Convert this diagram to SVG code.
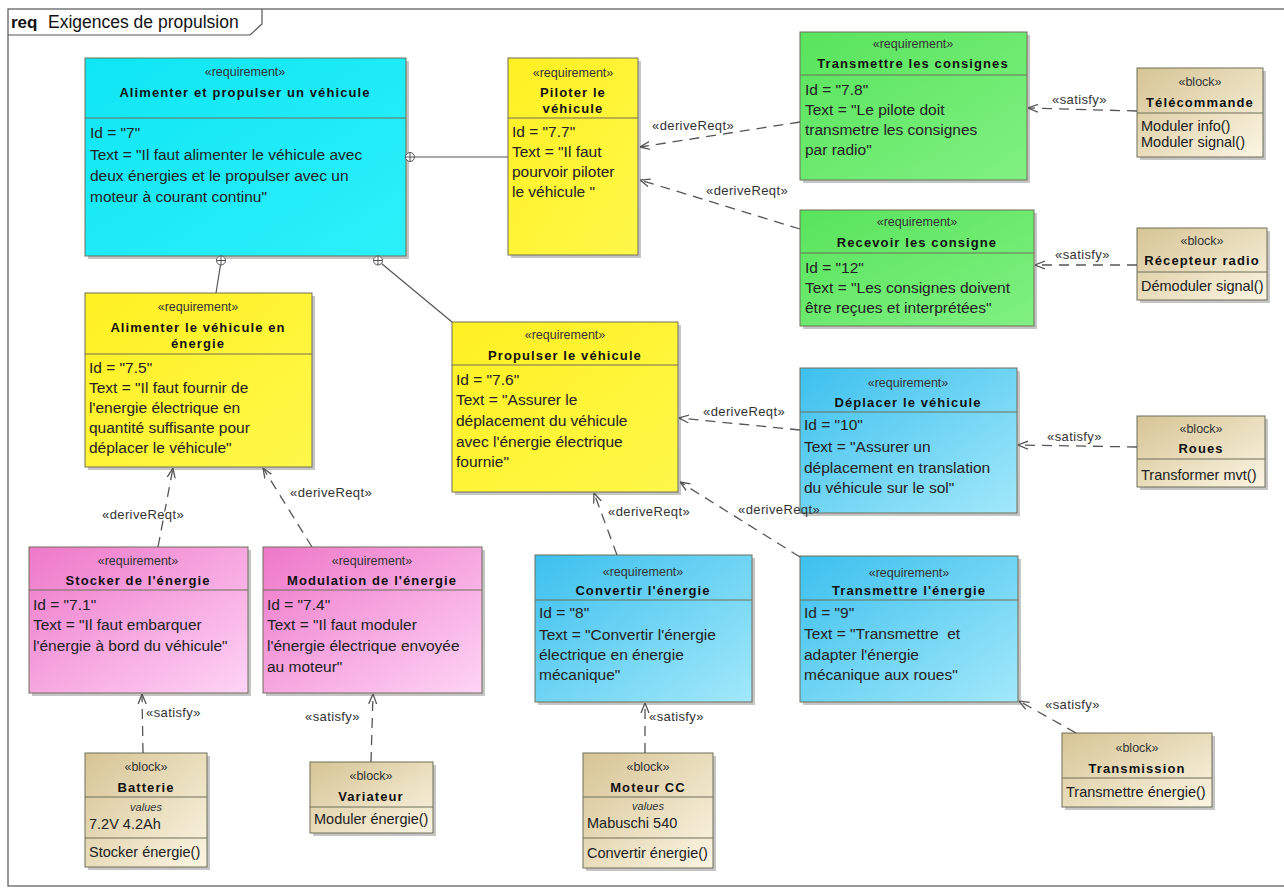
<svg xmlns="http://www.w3.org/2000/svg" width="1284" height="889" viewBox="0 0 1284 889">
<style>
.bg{fill:#fff}
.frame{fill:none;stroke:#555;stroke-width:1.2}
.sh{fill:#8c8c8c;opacity:.5}
.box{stroke:#6e6e58;stroke-width:1}
.sep{stroke:#6e6e58;stroke-width:1}
text{font-family:"Liberation Sans",Arial,sans-serif}
.st{font-size:12.5px;fill:#333;text-anchor:middle}
.nm{font-size:13px;font-weight:bold;letter-spacing:1.1px;fill:#111;text-anchor:middle}
.tx{font-size:15.5px;fill:#222}
.op{font-size:14.5px;fill:#222}
.val{font-size:11px;font-style:italic;fill:#333;text-anchor:middle}
.lbl{font-size:13px;letter-spacing:.4px;fill:#333;paint-order:stroke;stroke:#fff;stroke-width:3px;stroke-linejoin:round}
.lbl2{font-size:13px;letter-spacing:.4px;fill:#333}
.dash{stroke:#555;stroke-width:1.3;stroke-dasharray:10 7;fill:none;marker-end:url(#open)}
.solid{stroke:#555;stroke-width:1.2;fill:none}
.cont{fill:#fff;stroke:#555;stroke-width:1}
</style>
<defs>
<marker id="open" viewBox="0 0 10 10" refX="10" refY="5" markerWidth="10" markerHeight="10" markerUnits="userSpaceOnUse" orient="auto">
<path d="M0,1 L10,5 L0,9" fill="none" stroke="#555" stroke-width="1.3"/>
</marker>
<linearGradient id="gCyan" x1="0" y1="0" x2="1" y2="1"><stop offset="0" stop-color="#0FE6F4"/><stop offset="1" stop-color="#2CF0FA"/></linearGradient>
<linearGradient id="gYel" x1="0" y1="0" x2="1" y2="1"><stop offset="0" stop-color="#FFF022"/><stop offset="1" stop-color="#FFF84A"/></linearGradient>
<linearGradient id="gGreen" x1="0" y1="0" x2="1" y2="1"><stop offset="0" stop-color="#58E45C"/><stop offset="1" stop-color="#80F082"/></linearGradient>
<linearGradient id="gBlue" x1="0" y1="0" x2="1" y2="1"><stop offset="0" stop-color="#3CC0EE"/><stop offset="1" stop-color="#A2E8FA"/></linearGradient>
<linearGradient id="gPink" x1="0" y1="0" x2="1" y2="1"><stop offset="0" stop-color="#EE78C8"/><stop offset="1" stop-color="#FED4F6"/></linearGradient>
<linearGradient id="gTan" x1="0" y1="0" x2="1" y2="1"><stop offset="0" stop-color="#D6C494"/><stop offset="1" stop-color="#FBF5E3"/></linearGradient>
<g id="contSym"><circle r="4.5" class="cont"/><path d="M-4.5,0 H4.5 M0,-4.5 V4.5" stroke="#555" stroke-width="1"/></g>
</defs>
<rect class="bg" x="0" y="0" width="1284" height="889"/>
<g id="frame">
<rect class="frame" x="8" y="9" width="1290" height="877"/>
<path class="frame" d="M8,35 L250,35 L262,24 L262,9"/>
<text x="11" y="28" style="font-size:17px;font-weight:bold;fill:#111">req</text>
<text x="48" y="28" style="font-size:17.5px;fill:#111">Exigences de propulsion</text>
</g>

<g id="req7">
<rect class="sh" x="88" y="61" width="321" height="198"/>
<rect class="box" x="85" y="58" width="321" height="198" fill="url(#gCyan)"/>
<line class="sep" x1="85" y1="118" x2="406" y2="118"/>
<text class="st" x="245" y="76">«requirement»</text>
<text class="nm" x="245" y="97">Alimenter et propulser un véhicule</text>
<text class="tx" x="90" y="138">Id = "7"</text>
<text class="tx" x="90" y="160">Text = "Il faut alimenter le véhicule avec</text>
<text class="tx" x="90" y="181">deux énergies et le propulser avec un</text>
<text class="tx" x="90" y="202">moteur à courant continu"</text>
</g>

<g id="req77">
<rect class="sh" x="511" y="61" width="130" height="197"/>
<rect class="box" x="508" y="58" width="130" height="197" fill="url(#gYel)"/>
<line class="sep" x1="508" y1="118" x2="638" y2="118"/>
<text class="st" x="573" y="77">«requirement»</text>
<text class="nm" x="573" y="97">Piloter le</text>
<text class="nm" x="573" y="113">véhicule</text>
<text class="tx" x="512" y="137">Id = "7.7"</text>
<text class="tx" x="512" y="157">Text = "Il faut</text>
<text class="tx" x="512" y="177">pourvoir piloter</text>
<text class="tx" x="512" y="197">le véhicule "</text>
</g>

<g id="req78">
<rect class="sh" x="803" y="35" width="227" height="148"/>
<rect class="box" x="800" y="32" width="227" height="148" fill="url(#gGreen)"/>
<line class="sep" x1="800" y1="75" x2="1027" y2="75"/>
<text class="st" x="913" y="48">«requirement»</text>
<text class="nm" x="913" y="68">Transmettre les consignes</text>
<text class="tx" x="805" y="95">Id = "7.8"</text>
<text class="tx" x="805" y="115">Text = "Le pilote doit</text>
<text class="tx" x="805" y="135">transmetre les consignes</text>
<text class="tx" x="805" y="155">par radio"</text>
</g>

<g id="blkTelecommande">
<rect class="sh" x="1140" y="71" width="126" height="89"/>
<rect class="box" x="1137" y="68" width="126" height="89" fill="url(#gTan)"/>
<line class="sep" x1="1137" y1="113" x2="1263" y2="113"/>
<text class="st" x="1200" y="86">«block»</text>
<text class="nm" x="1200" y="107">Télécommande</text>
<text class="op" x="1141" y="131">Moduler info()</text>
<text class="op" x="1141" y="147">Moduler signal()</text>
</g>

<g id="req12">
<rect class="sh" x="803" y="213" width="234" height="116"/>
<rect class="box" x="800" y="210" width="234" height="116" fill="url(#gGreen)"/>
<line class="sep" x1="800" y1="253" x2="1034" y2="253"/>
<text class="st" x="917" y="226">«requirement»</text>
<text class="nm" x="917" y="247">Recevoir les consigne</text>
<text class="tx" x="805" y="273">Id = "12"</text>
<text class="tx" x="805" y="293">Text = "Les consignes doivent</text>
<text class="tx" x="805" y="313">être reçues et interprétées"</text>
</g>

<g id="blkRecepteur">
<rect class="sh" x="1140" y="231" width="130" height="72"/>
<rect class="box" x="1137" y="228" width="130" height="72" fill="url(#gTan)"/>
<line class="sep" x1="1137" y1="272" x2="1267" y2="272"/>
<text class="st" x="1202" y="245">«block»</text>
<text class="nm" x="1202" y="265">Récepteur radio</text>
<text class="op" x="1141" y="291">Démoduler signal()</text>
</g>

<g id="req75">
<rect class="sh" x="88" y="296" width="227" height="174"/>
<rect class="box" x="85" y="293" width="227" height="174" fill="url(#gYel)"/>
<line class="sep" x1="85" y1="354" x2="312" y2="354"/>
<text class="st" x="198" y="311">«requirement»</text>
<text class="nm" x="198" y="332">Alimenter le véhicule en</text>
<text class="nm" x="198" y="348">énergie</text>
<text class="tx" x="89" y="373">Id = "7.5"</text>
<text class="tx" x="89" y="393">Text = "Il faut fournir de</text>
<text class="tx" x="89" y="413">l'energie électrique en</text>
<text class="tx" x="89" y="433">quantité suffisante pour</text>
<text class="tx" x="89" y="453">déplacer le véhicule"</text>
</g>

<g id="req76">
<rect class="sh" x="455" y="325" width="226" height="170"/>
<rect class="box" x="452" y="322" width="226" height="170" fill="url(#gYel)"/>
<line class="sep" x1="452" y1="365" x2="678" y2="365"/>
<text class="st" x="565" y="339">«requirement»</text>
<text class="nm" x="565" y="360">Propulser le véhicule</text>
<text class="tx" x="456" y="385">Id = "7.6"</text>
<text class="tx" x="456" y="405">Text = "Assurer le</text>
<text class="tx" x="456" y="426">déplacement du véhicule</text>
<text class="tx" x="456" y="447">avec l'énergie électrique</text>
<text class="tx" x="456" y="467">fournie"</text>
</g>

<g id="req10">
<rect class="sh" x="803" y="371" width="217" height="145"/>
<rect class="box" x="800" y="368" width="217" height="145" fill="url(#gBlue)"/>
<line class="sep" x1="800" y1="412" x2="1017" y2="412"/>
<text class="st" x="908" y="387">«requirement»</text>
<text class="nm" x="908" y="407">Déplacer le véhicule</text>
<text class="tx" x="804" y="430">Id = "10"</text>
<text class="tx" x="804" y="452">Text = "Assurer un</text>
<text class="tx" x="804" y="473">déplacement en translation</text>
<text class="tx" x="804" y="493">du véhicule sur le sol"</text>
</g>

<g id="blkRoues">
<rect class="sh" x="1140" y="419" width="128" height="71"/>
<rect class="box" x="1137" y="416" width="128" height="71" fill="url(#gTan)"/>
<line class="sep" x1="1137" y1="459" x2="1265" y2="459"/>
<text class="st" x="1201" y="433">«block»</text>
<text class="nm" x="1201" y="453">Roues</text>
<text class="op" x="1141" y="480">Transformer mvt()</text>
</g>

<g id="req71">
<rect class="sh" x="32" y="550" width="219" height="146"/>
<rect class="box" x="29" y="547" width="219" height="146" fill="url(#gPink)"/>
<line class="sep" x1="29" y1="590" x2="248" y2="590"/>
<text class="st" x="138" y="565">«requirement»</text>
<text class="nm" x="138" y="585">Stocker de l'énergie</text>
<text class="tx" x="33" y="610">Id = "7.1"</text>
<text class="tx" x="33" y="630">Text = "Il faut embarquer</text>
<text class="tx" x="33" y="651">l'énergie à bord du véhicule"</text>
</g>

<g id="req74">
<rect class="sh" x="266" y="550" width="219" height="146"/>
<rect class="box" x="263" y="547" width="219" height="146" fill="url(#gPink)"/>
<line class="sep" x1="263" y1="590" x2="482" y2="590"/>
<text class="st" x="372" y="565">«requirement»</text>
<text class="nm" x="372" y="585">Modulation de l'énergie</text>
<text class="tx" x="267" y="610">Id = "7.4"</text>
<text class="tx" x="267" y="630">Text = "Il faut moduler</text>
<text class="tx" x="267" y="651">l'énergie électrique envoyée</text>
<text class="tx" x="267" y="672">au moteur"</text>
</g>

<g id="blkBatterie">
<rect class="sh" x="88" y="756" width="122" height="114"/>
<rect class="box" x="85" y="753" width="122" height="114" fill="url(#gTan)"/>
<line class="sep" x1="85" y1="797" x2="207" y2="797"/>
<line class="sep" x1="85" y1="838" x2="207" y2="838"/>
<text class="st" x="146" y="771">«block»</text>
<text class="nm" x="146" y="792">Batterie</text>
<text class="val" x="146" y="811">values</text>
<text class="op" x="89" y="829">7.2V 4.2Ah</text>
<text class="op" x="89" y="857">Stocker énergie()</text>
</g>

<g id="blkVariateur">
<rect class="sh" x="313" y="765" width="123" height="71"/>
<rect class="box" x="310" y="762" width="123" height="71" fill="url(#gTan)"/>
<line class="sep" x1="310" y1="807" x2="433" y2="807"/>
<text class="st" x="371" y="780">«block»</text>
<text class="nm" x="371" y="801">Variateur</text>
<text class="op" x="314" y="824">Moduler énergie()</text>
</g>

<g id="req8">
<rect class="sh" x="538" y="558" width="217" height="147"/>
<rect class="box" x="535" y="555" width="217" height="147" fill="url(#gBlue)"/>
<line class="sep" x1="535" y1="600" x2="752" y2="600"/>
<text class="st" x="643" y="576">«requirement»</text>
<text class="nm" x="643" y="595">Convertir l'énergie</text>
<text class="tx" x="539" y="618">Id = "8"</text>
<text class="tx" x="539" y="640">Text = "Convertir l'énergie</text>
<text class="tx" x="539" y="660">électrique en énergie</text>
<text class="tx" x="539" y="680">mécanique"</text>
</g>

<g id="req9">
<rect class="sh" x="803" y="559" width="218" height="146"/>
<rect class="box" x="800" y="556" width="218" height="146" fill="url(#gBlue)"/>
<line class="sep" x1="800" y1="600" x2="1018" y2="600"/>
<text class="st" x="909" y="577">«requirement»</text>
<text class="nm" x="909" y="595">Transmettre l'énergie</text>
<text class="tx" x="804" y="618">Id = "9"</text>
<text class="tx" x="804" y="639">Text = "Transmettre&#160; et</text>
<text class="tx" x="804" y="660">adapter l'énergie</text>
<text class="tx" x="804" y="680">mécanique aux roues"</text>
</g>

<g id="blkMoteur">
<rect class="sh" x="586" y="756" width="130" height="115"/>
<rect class="box" x="583" y="753" width="130" height="115" fill="url(#gTan)"/>
<line class="sep" x1="583" y1="797" x2="713" y2="797"/>
<line class="sep" x1="583" y1="838" x2="713" y2="838"/>
<text class="st" x="648" y="771">«block»</text>
<text class="nm" x="648" y="792">Moteur CC</text>
<text class="val" x="648" y="810">values</text>
<text class="op" x="587" y="828">Mabuschi 540</text>
<text class="op" x="587" y="858">Convertir énergie()</text>
</g>

<g id="blkTransmission">
<rect class="sh" x="1065" y="736" width="150" height="74"/>
<rect class="box" x="1062" y="733" width="150" height="74" fill="url(#gTan)"/>
<line class="sep" x1="1062" y1="778" x2="1212" y2="778"/>
<text class="st" x="1137" y="752">«block»</text>
<text class="nm" x="1137" y="773">Transmission</text>
<text class="op" x="1066" y="797">Transmettre énergie()</text>
</g>

<g id="connectors">
<line class="solid" x1="414.5" y1="157" x2="508" y2="157"/>
<use href="#contSym" x="410" y="157"/>
<line class="solid" x1="220.5" y1="265" x2="216" y2="293"/>
<use href="#contSym" x="221" y="260.5"/>
<line class="solid" x1="381.5" y1="263.5" x2="452" y2="322"/>
<use href="#contSym" x="378" y="260.5"/>

<path class="dash" d="M800,122 L640,147"/>
<text class="lbl" x="652" y="130">«deriveReqt»</text>
<path class="dash" d="M800,229 L640,180"/>
<text class="lbl" x="706" y="195">«deriveReqt»</text>
<path class="dash" d="M158,547 L173,468"/>
<text class="lbl" x="102" y="519">«deriveReqt»</text>
<path class="dash" d="M312,547 L263,468"/>
<text class="lbl" x="290" y="497">«deriveReqt»</text>
<path class="dash" d="M800,430 L679,418"/>
<text class="lbl" x="703" y="416">«deriveReqt»</text>
<path class="dash" d="M617,555 L594,493"/>
<text class="lbl" x="608" y="516">«deriveReqt»</text>
<path class="dash" d="M800,557 L680,482"/>
<text class="lbl2" x="738" y="514">«deriveReqt»</text>

<path class="dash" d="M1137,111 L1028,108"/>
<text class="lbl" x="1052" y="104">«satisfy»</text>
<path class="dash" d="M1137,265 L1035,265"/>
<text class="lbl" x="1055" y="259">«satisfy»</text>
<path class="dash" d="M1137,447 L1018,445"/>
<text class="lbl" x="1047" y="441">«satisfy»</text>
<path class="dash" d="M143,753 L142,694"/>
<text class="lbl" x="146" y="717">«satisfy»</text>
<path class="dash" d="M371,762 L373,694"/>
<text class="lbl" x="305" y="721">«satisfy»</text>
<path class="dash" d="M645,753 L645,703"/>
<text class="lbl" x="649" y="721">«satisfy»</text>
<path class="dash" d="M1076,733 L1019,701"/>
<text class="lbl" x="1045" y="709">«satisfy»</text>
</g>
</svg>
